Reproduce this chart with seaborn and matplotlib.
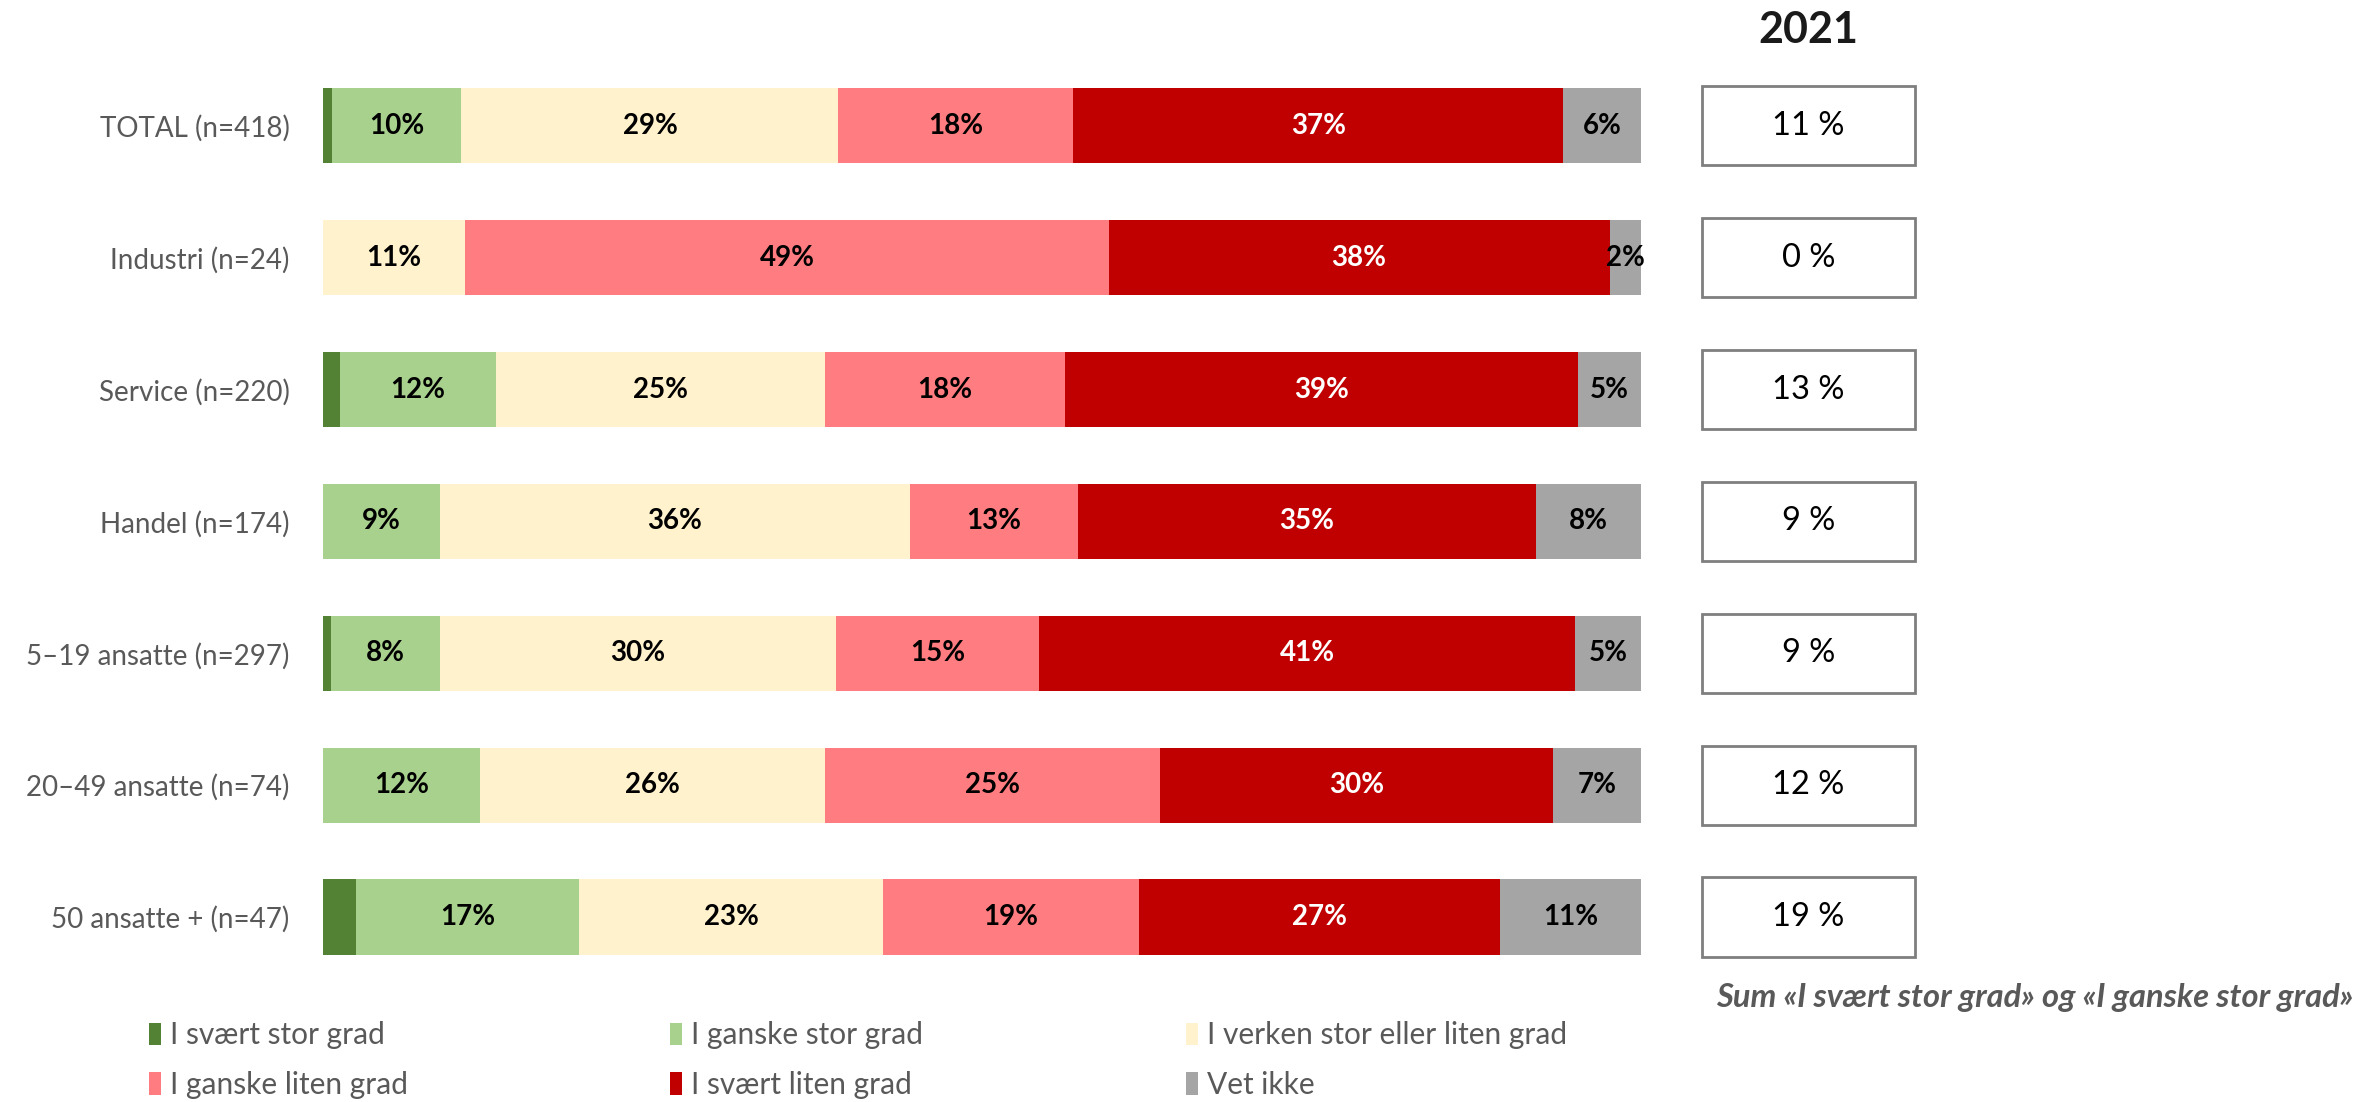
import seaborn as sns
import pandas as pd
import numpy as np
import matplotlib.pyplot as plt
from matplotlib.patches import Patch

# data (percent)
groups = ['TOTAL (n=418)', 'Industri (n=24)', 'Service (n=220)', 'Handel (n=174)',
          '5–19 ansatte (n=297)', '20–49 ansatte (n=74)', '50 ansatte + (n=47)']
categories = ['I svært stor grad', 'I ganske stor grad', 'I verken stor eller liten grad',
              'I ganske liten grad', 'I svært liten grad', 'Vet ikke']
svaert_stor = [0.7, 0.0, 1.3, 0.0, 0.6, 0.0, 2.5]
ganske_stor = [9.8, 0.0, 11.8, 8.9, 8.3, 11.9, 16.9]
verken = [28.6, 10.8, 25.0, 35.6, 30.0, 26.2, 23.1]
ganske_liten = [17.8, 48.8, 18.2, 12.8, 15.4, 25.4, 19.4]
svaert_liten = [37.2, 38.0, 38.9, 34.7, 40.7, 29.8, 27.4]
vet_ikke = [5.9, 2.4, 4.8, 8.0, 5.0, 6.7, 10.7]
sum_2021 = [11, 0, 13, 9, 9, 12, 19]

colors = ['#548235', '#A9D18E', '#FFF2CC', '#FF7C80', '#C00000', '#A5A5A5']
label_colors = [None, 'black', 'black', 'black', 'white', 'black']

sns.set_theme(style='white')
plt.rcParams['font.family'] = ['Lato', 'DejaVu Sans']

df = pd.DataFrame(dict(zip(categories, [svaert_stor, ganske_stor, verken,
                                          ganske_liten, svaert_liten, vet_ikke])),
                  index=groups)
cum = df.cumsum(axis=1)

fig = plt.figure(figsize=(23.58, 11.02), dpi=100)
bottom, top = 0.108, 0.9456
ax = fig.add_axes([0.137, bottom, 0.559, top - bottom])

# stacked bars: draw cumulative layers from the right-most back
for i in reversed(range(len(categories))):
    sns.barplot(x=cum.iloc[:, i].values, y=groups, color=colors[i], orient='h',
                width=0.57, saturation=1, linewidth=0, ax=ax)

for i, cat in enumerate(categories):
    if label_colors[i] is None:
        continue
    for j, g in enumerate(groups):
        v = df.loc[g, cat]
        if v < 1:
            continue
        x = cum.loc[g, cat] - v / 2
        ax.text(x, j, f'{round(v):.0f}%', ha='center', va='center',
                fontsize=20, fontweight='bold', color=label_colors[i])

ax.set_xlim(0, 100)
ax.set_ylim(6.5, -0.5)
ax.set_xlabel('')
ax.set_ylabel('')
ax.set_xticks([])
ax.tick_params(axis='y', length=0, labelsize=20, labelcolor='#595959', pad=24)
sns.despine(ax=ax, left=True, bottom=True)

# boxes on the right with the 2021 sum
ax2 = fig.add_axes([0.721, bottom, 0.092, top - bottom])
sns.barplot(x=np.ones(len(groups)), y=groups, color='white', orient='h', width=0.6,
            saturation=1, edgecolor='#7F7F7F', linewidth=2, ax=ax2)
for j, v in enumerate(sum_2021):
    ax2.text(0.5, j, f'{v} %', ha='center', va='center', fontsize=23.5, color='black')
ax2.set_xlim(-0.01, 1.01)
ax2.set_ylim(6.5, -0.5)
ax2.axis('off')

fig.text(0.7667, 0.973, '2021', ha='center', va='center', fontsize=31,
         fontweight='bold', color='#1a1a1a')
fig.text(0.998, 0.095, 'Sum «I svært stor grad» og «I ganske stor grad»', ha='right',
         va='center', fontsize=23.5, fontweight='bold', style='italic', color='#595959')

handles = [Patch(facecolor=c, edgecolor='none') for c in colors]
order = [0, 3, 1, 4, 2, 5]
fig.legend([handles[k] for k in order], [categories[k] for k in order],
           ncol=3, loc='upper left', bbox_to_anchor=(0.058, 0.084), frameon=False,
           fontsize=21.5, labelcolor='#595959', handlelength=0.4, handleheight=0.8,
           handletextpad=0.3, columnspacing=8.8, labelspacing=0.72, borderaxespad=0)

fig.savefig('out.png', dpi=100, facecolor='white')
